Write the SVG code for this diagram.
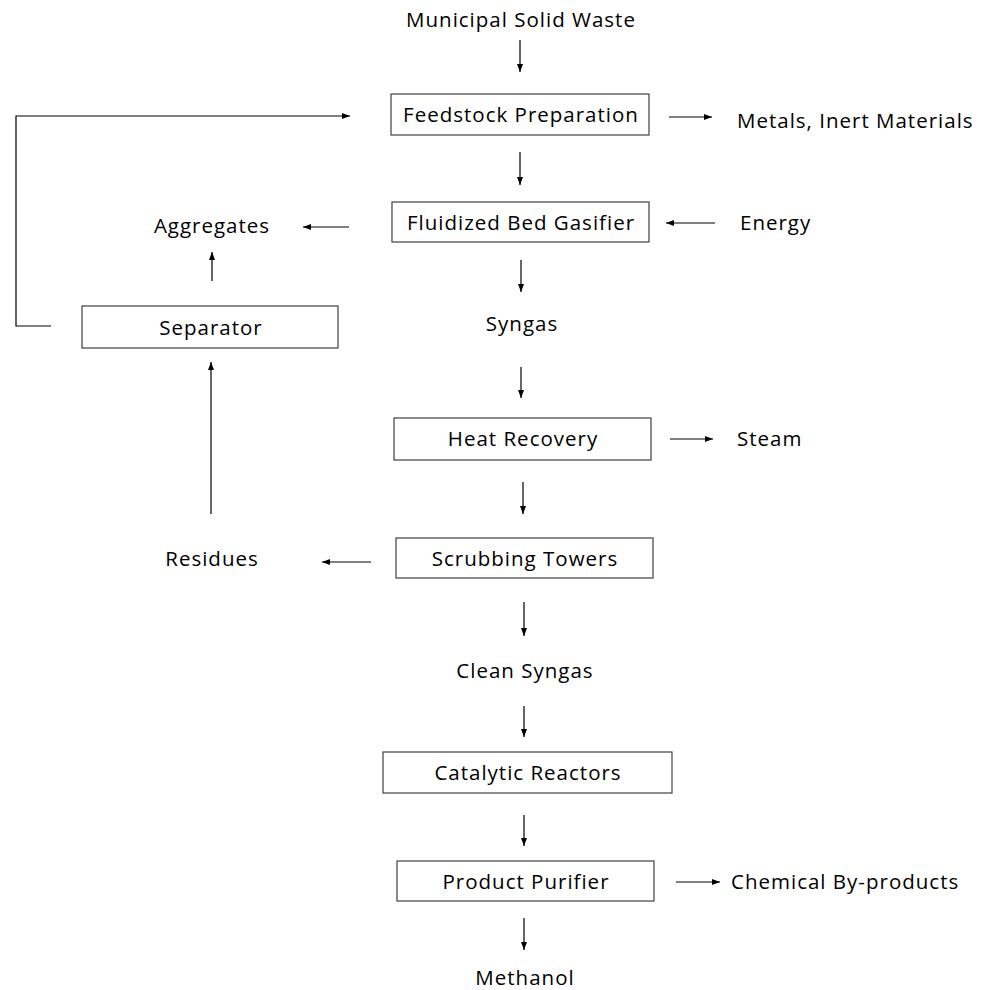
<svg xmlns="http://www.w3.org/2000/svg" width="989" height="990" viewBox="0 0 989 990">
<style>
text{font-family:"Open Sans","Liberation Sans",sans-serif;font-size:20.5px;letter-spacing:1px;fill:#000}
.box{fill:#fff;stroke:#404040;stroke-width:1.2}
.ln{fill:none;stroke:#000;stroke-width:1.2}
.c{text-anchor:middle}
</style>
<defs>
<marker id="ah" viewBox="0 0 8 6" refX="8" refY="3" markerWidth="8" markerHeight="6" markerUnits="userSpaceOnUse" orient="auto">
<path d="M0,0 L8,3 L0,6 Z" fill="#000"/>
</marker>
</defs>
<rect width="989" height="990" fill="#fff"/>
<g id="connectors">
<line class="ln" x1="520" y1="40" x2="520" y2="72" marker-end="url(#ah)"/>
<line class="ln" x1="669" y1="117" x2="712" y2="117" marker-end="url(#ah)"/>
<polyline class="ln" points="51,326 16,326 16,116 350,116" marker-end="url(#ah)"/>
<line class="ln" x1="520" y1="152" x2="520" y2="185" marker-end="url(#ah)"/>
<line class="ln" x1="715" y1="223" x2="666" y2="223" marker-end="url(#ah)"/>
<line class="ln" x1="349" y1="227" x2="303" y2="227" marker-end="url(#ah)"/>
<line class="ln" x1="212" y1="281" x2="212" y2="252" marker-end="url(#ah)"/>
<line class="ln" x1="521" y1="260" x2="521" y2="292" marker-end="url(#ah)"/>
<line class="ln" x1="521" y1="367" x2="521" y2="398" marker-end="url(#ah)"/>
<line class="ln" x1="670" y1="439" x2="713" y2="439" marker-end="url(#ah)"/>
<line class="ln" x1="523" y1="482" x2="523" y2="514" marker-end="url(#ah)"/>
<line class="ln" x1="211" y1="514" x2="211" y2="362" marker-end="url(#ah)"/>
<line class="ln" x1="371" y1="562" x2="322" y2="562" marker-end="url(#ah)"/>
<line class="ln" x1="524" y1="602" x2="524" y2="636" marker-end="url(#ah)"/>
<line class="ln" x1="524" y1="706" x2="524" y2="737" marker-end="url(#ah)"/>
<line class="ln" x1="524" y1="815" x2="524" y2="846" marker-end="url(#ah)"/>
<line class="ln" x1="676" y1="882" x2="720" y2="882" marker-end="url(#ah)"/>
<line class="ln" x1="524" y1="918" x2="524" y2="950" marker-end="url(#ah)"/>
</g>
<g id="msw"><text class="c" x="521" y="27">Municipal Solid Waste</text></g>
<g id="feedstock"><rect class="box" x="391" y="94" width="258" height="41"/><text class="c" x="521" y="122">Feedstock Preparation</text></g>
<g id="metals"><text x="737" y="128">Metals, Inert Materials</text></g>
<g id="gasifier"><rect class="box" x="392" y="202" width="257" height="40"/><text class="c" x="521" y="230">Fluidized Bed Gasifier</text></g>
<g id="energy"><text x="740" y="230">Energy</text></g>
<g id="aggregates"><text class="c" x="212" y="233">Aggregates</text></g>
<g id="separator"><rect class="box" x="82" y="306" width="256" height="42"/><text class="c" x="211" y="335">Separator</text></g>
<g id="syngas"><text class="c" x="522" y="331">Syngas</text></g>
<g id="heat"><rect class="box" x="394" y="418" width="257" height="42"/><text class="c" x="523" y="446">Heat Recovery</text></g>
<g id="steam"><text x="737" y="446">Steam</text></g>
<g id="scrubbing"><rect class="box" x="396" y="538" width="257" height="40"/><text class="c" x="525" y="566">Scrubbing Towers</text></g>
<g id="residues"><text class="c" x="212" y="566">Residues</text></g>
<g id="clean"><text class="c" x="525" y="678">Clean Syngas</text></g>
<g id="catalytic"><rect class="box" x="383" y="752" width="289" height="41"/><text class="c" x="528" y="780">Catalytic Reactors</text></g>
<g id="purifier"><rect class="box" x="397" y="861" width="257" height="40"/><text class="c" x="526" y="889">Product Purifier</text></g>
<g id="byproducts"><text x="731" y="889">Chemical By-products</text></g>
<g id="methanol"><text class="c" x="525" y="985">Methanol</text></g>
</svg>
